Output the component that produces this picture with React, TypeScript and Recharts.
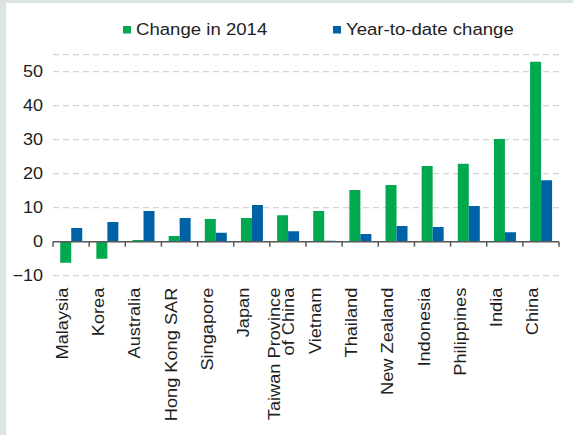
import React from 'react';
import { BarChart, Bar, XAxis, YAxis, CartesianGrid, ReferenceLine } from 'recharts';

// Asian equity markets, percent change
const CATEGORIES = [
  'Malaysia',
  'Korea',
  'Australia',
  'Hong Kong SAR',
  'Singapore',
  'Japan',
  'Taiwan Province\nof China',
  'Vietnam',
  'Thailand',
  'New Zealand',
  'Indonesia',
  'Philippines',
  'India',
  'China',
];
const CHANGE_2014 = [-6.2, -5.0, 0.5, 1.7, 6.7, 7.0, 7.8, 9.0, 15.2, 16.7, 22.3, 22.9, 30.2, 52.9];
const YTD_CHANGE = [4.0, 5.8, 9.0, 7.0, 2.6, 10.8, 3.1, 0.3, 2.3, 4.6, 4.3, 10.5, 2.8, 18.1];
const Y_TICKS = [-10, 0, 10, 20, 30, 40, 50];

const SERIES_NAMES = ['Change in 2014', 'Year-to-date change'];
const SERIES_COLORS = ['#00a84f', '#0062a6'];

const data = CATEGORIES.map((name, i) => ({
  name,
  change: CHANGE_2014[i],
  ytd: YTD_CHANGE[i],
}));

const FONT = '"Liberation Sans", Arial, sans-serif';
const TEXT = '#1e1e1e';
const SQUASH = 0.87;

const YTick = (props: any) => {
  const { x, y, payload } = props;
  const v = payload.value;
  const label = v < 0 ? '\u2212' + Math.abs(v) : String(v);
  return (
    <text
      transform={`translate(${x},${y + 5.6}) scale(1,${SQUASH})`}
      textAnchor="end"
      fontSize={18}
      fontFamily={FONT}
      fill={TEXT}
    >
      {label}
    </text>
  );
};

const XTick = (props: any) => {
  const { x, y, payload } = props;
  const lines = String(payload.value).split('\n');
  const n = lines.length;
  const base = n === 1 ? -3 : -1;
  return (
    <g transform={`translate(${x},${y}) rotate(-90)`}>
      {lines.map((l, i) => (
        <text
          key={i}
          transform={`translate(0,${base + (i - (n - 1) / 2) * 14}) scale(1,${SQUASH})`}
          textAnchor="end"
          fontSize={18.2}
          fontFamily={FONT}
          fill={TEXT}
        >
          {l}
        </text>
      ))}
    </g>
  );
};

// zero line with tick marks at the category boundaries
const ZeroAxis = (props: any) => {
  const { x1, y1, x2 } = props;
  const n = CATEGORIES.length;
  const step = (x2 - x1) / n;
  return (
    <g>
      <line x1={x1} y1={y1} x2={x2} y2={y1} stroke="#595959" strokeWidth={1.5} />
      {Array.from({ length: n + 1 }, (_, i) => (
        <line
          key={i}
          x1={x1 + i * step}
          x2={x1 + i * step}
          y1={y1}
          y2={y1 + 5}
          stroke="#595959"
          strokeWidth={1.5}
        />
      ))}
    </g>
  );
};

const LEGEND_X = [123, 333];

export default function App() {
  return (
    <div
      style={{
        position: 'absolute',
        left: 0,
        top: 0,
        width: 573,
        height: 435,
        background: '#dce4e2',
        overflow: 'hidden',
      }}
    >
      <div style={{ position: 'absolute', left: 6, top: 3, right: 0, bottom: 0, background: '#ffffff' }} />
      <div style={{ position: 'absolute', left: 0, top: 0 }}>
        <BarChart
          width={573}
          height={435}
          data={data}
          margin={{ top: 54.7, right: 14, bottom: 0, left: 0 }}
          barCategoryGap="20%"
          barGap={0}
        >
          <CartesianGrid vertical={false} stroke="#d4d4d4" strokeWidth={1.3} strokeDasharray="6 4" />
          <XAxis
            dataKey="name"
            interval={0}
            height={159.3}
            axisLine={false}
            tickLine={false}
            tickSize={0}
            tickMargin={12}
            tick={<XTick />}
          />
          <YAxis
            width={53}
            domain={[-10, 55]}
            ticks={Y_TICKS}
            allowDataOverflow
            axisLine={false}
            tickLine={false}
            tickSize={0}
            tickMargin={10}
            tick={<YTick />}
          />
          <Bar dataKey="change" name={SERIES_NAMES[0]} fill={SERIES_COLORS[0]} isAnimationActive={false} />
          <Bar dataKey="ytd" name={SERIES_NAMES[1]} fill={SERIES_COLORS[1]} isAnimationActive={false} />
          <ReferenceLine y={0} shape={ZeroAxis} />
        </BarChart>
      </div>
      <svg width={573} height={50} style={{ position: 'absolute', left: 0, top: 0, pointerEvents: 'none' }}>
        {SERIES_NAMES.map((name, i) => (
          <g key={name}>
            <rect x={LEGEND_X[i]} y={26} width={8} height={7.5} fill={SERIES_COLORS[i]} />
            <text
              transform={`translate(${LEGEND_X[i] + 13},35) scale(1,${SQUASH})`}
              fontSize={18.6}
              fontFamily={FONT}
              fill={TEXT}
            >
              {name}
            </text>
          </g>
        ))}
      </svg>
    </div>
  );
}
